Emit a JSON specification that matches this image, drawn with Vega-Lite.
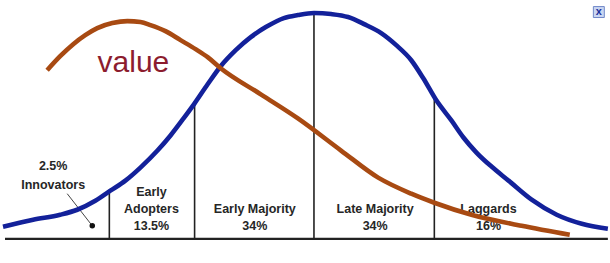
{
  "$schema": "https://vega.github.io/schema/vega-lite/v6.json",
  "width": 652,
  "height": 281,
  "padding": 0,
  "autosize": {"type": "none"},
  "background": "white",
  "config": {"view": {"stroke": null}},
  "datasets": {
    "adoption": [
      {"x": 3, "y": 226}, {"x": 33, "y": 219}, {"x": 60, "y": 214}, {"x": 77, "y": 209}, {"x": 95, "y": 200},
      {"x": 110, "y": 190}, {"x": 125, "y": 180}, {"x": 140, "y": 167}, {"x": 157, "y": 150}, {"x": 170, "y": 135},
      {"x": 183, "y": 118}, {"x": 194, "y": 103}, {"x": 207, "y": 84}, {"x": 220, "y": 66}, {"x": 235, "y": 50},
      {"x": 250, "y": 37}, {"x": 265, "y": 27}, {"x": 283, "y": 18}, {"x": 297, "y": 15}, {"x": 313, "y": 13},
      {"x": 330, "y": 14}, {"x": 347, "y": 17}, {"x": 363, "y": 24}, {"x": 380, "y": 33}, {"x": 395, "y": 45},
      {"x": 410, "y": 60}, {"x": 422, "y": 78}, {"x": 435, "y": 100}, {"x": 450, "y": 120}, {"x": 462, "y": 137},
      {"x": 475, "y": 152}, {"x": 490, "y": 166}, {"x": 507, "y": 180}, {"x": 530, "y": 199}, {"x": 555, "y": 214},
      {"x": 580, "y": 223}, {"x": 606, "y": 228}
    ],
    "value": [
      {"x": 47, "y": 70}, {"x": 60, "y": 56}, {"x": 73, "y": 44}, {"x": 85, "y": 35}, {"x": 97, "y": 28},
      {"x": 112, "y": 23}, {"x": 127, "y": 21}, {"x": 140, "y": 22}, {"x": 150, "y": 25}, {"x": 165, "y": 31},
      {"x": 180, "y": 40}, {"x": 195, "y": 49}, {"x": 207, "y": 57}, {"x": 220, "y": 68}, {"x": 260, "y": 94},
      {"x": 297, "y": 118}, {"x": 340, "y": 150}, {"x": 377, "y": 177}, {"x": 410, "y": 193}, {"x": 433, "y": 202},
      {"x": 470, "y": 214}, {"x": 520, "y": 225}, {"x": 568, "y": 234}
    ],
    "dividers": [
      {"x": 109, "top": 189, "bottom": 238},
      {"x": 194, "top": 101, "bottom": 238},
      {"x": 313, "top": 13, "bottom": 238},
      {"x": 433, "top": 98, "bottom": 238}
    ],
    "labels": [
      {"x": 53, "y": 165, "text": "2.5%"},
      {"x": 53, "y": 184, "text": "Innovators"},
      {"x": 151, "y": 191, "text": "Early"},
      {"x": 151, "y": 208, "text": "Adopters"},
      {"x": 151, "y": 225, "text": "13.5%"},
      {"x": 254, "y": 208, "text": "Early Majority"},
      {"x": 254, "y": 225, "text": "34%"},
      {"x": 374, "y": 208, "text": "Late Majority"},
      {"x": 374, "y": 225, "text": "34%"},
      {"x": 487, "y": 208, "text": "Laggards"},
      {"x": 487, "y": 225, "text": "16%"}
    ]
  },
  "layer": [
    {
      "data": {"values": [{"x": 5, "x2": 606, "y": 238}]},
      "mark": {"type": "rule", "color": "#222222", "strokeWidth": 2.2},
      "encoding": {
        "x": {"field": "x", "type": "quantitative", "scale": {"domain": [0, 610]}, "axis": null},
        "x2": {"field": "x2"},
        "y": {"field": "y", "type": "quantitative", "scale": {"domain": [0, 263], "reverse": true}, "axis": null}
      }
    },
    {
      "data": {"name": "dividers"},
      "mark": {"type": "rule", "color": "#222222", "strokeWidth": 1.6},
      "encoding": {
        "x": {"field": "x", "type": "quantitative"},
        "y": {"field": "top", "type": "quantitative"},
        "y2": {"field": "bottom"}
      }
    },
    {
      "data": {"values": [{"x1": 67, "y1": 193, "x2": 92, "y2": 225}]},
      "mark": {"type": "rule", "color": "#444444", "strokeWidth": 1},
      "encoding": {
        "x": {"field": "x1", "type": "quantitative"},
        "x2": {"field": "x2"},
        "y": {"field": "y1", "type": "quantitative"},
        "y2": {"field": "y2"}
      }
    },
    {
      "data": {"values": [{"x": 92, "y": 225}]},
      "mark": {"type": "point", "filled": true, "color": "#111111", "size": 30, "opacity": 1},
      "encoding": {
        "x": {"field": "x", "type": "quantitative"},
        "y": {"field": "y", "type": "quantitative"}
      }
    },
    {
      "data": {"name": "labels"},
      "mark": {"type": "text", "font": "Liberation Sans", "fontWeight": "bold", "fontSize": 12.5, "color": "#262626", "align": "center", "baseline": "middle"},
      "encoding": {
        "x": {"field": "x", "type": "quantitative"},
        "y": {"field": "y", "type": "quantitative"},
        "text": {"field": "text"}
      }
    },
    {
      "data": {"name": "adoption"},
      "mark": {"type": "line", "color": "#13219a", "strokeWidth": 4.6, "interpolate": "monotone"},
      "encoding": {
        "x": {"field": "x", "type": "quantitative"},
        "y": {"field": "y", "type": "quantitative"}
      }
    },
    {
      "data": {"name": "value"},
      "mark": {"type": "line", "color": "#a84a12", "strokeWidth": 4.6, "interpolate": "monotone"},
      "encoding": {
        "x": {"field": "x", "type": "quantitative"},
        "y": {"field": "y", "type": "quantitative"}
      }
    },
    {
      "data": {"values": [{"x": 133, "y": 63, "text": "value"}]},
      "mark": {"type": "text", "font": "Liberation Sans", "fontSize": 30, "color": "#8c1c2e", "align": "center", "baseline": "middle"},
      "encoding": {
        "x": {"field": "x", "type": "quantitative"},
        "y": {"field": "y", "type": "quantitative"},
        "text": {"field": "text"}
      }
    },
    {
      "data": {"values": [{"x": 597, "y": 12}]},
      "mark": {"type": "square", "size": 120, "fill": "#c9d6f2", "stroke": "#7088c8", "strokeWidth": 1, "opacity": 1},
      "encoding": {
        "x": {"field": "x", "type": "quantitative"},
        "y": {"field": "y", "type": "quantitative"}
      }
    },
    {
      "data": {"values": [{"x": 597, "y": 12, "text": "x"}]},
      "mark": {"type": "text", "font": "Liberation Sans", "fontWeight": "bold", "fontSize": 11, "color": "#1c2f9a", "align": "center", "baseline": "middle"},
      "encoding": {
        "x": {"field": "x", "type": "quantitative"},
        "y": {"field": "y", "type": "quantitative"},
        "text": {"field": "text"}
      }
    }
  ]
}
